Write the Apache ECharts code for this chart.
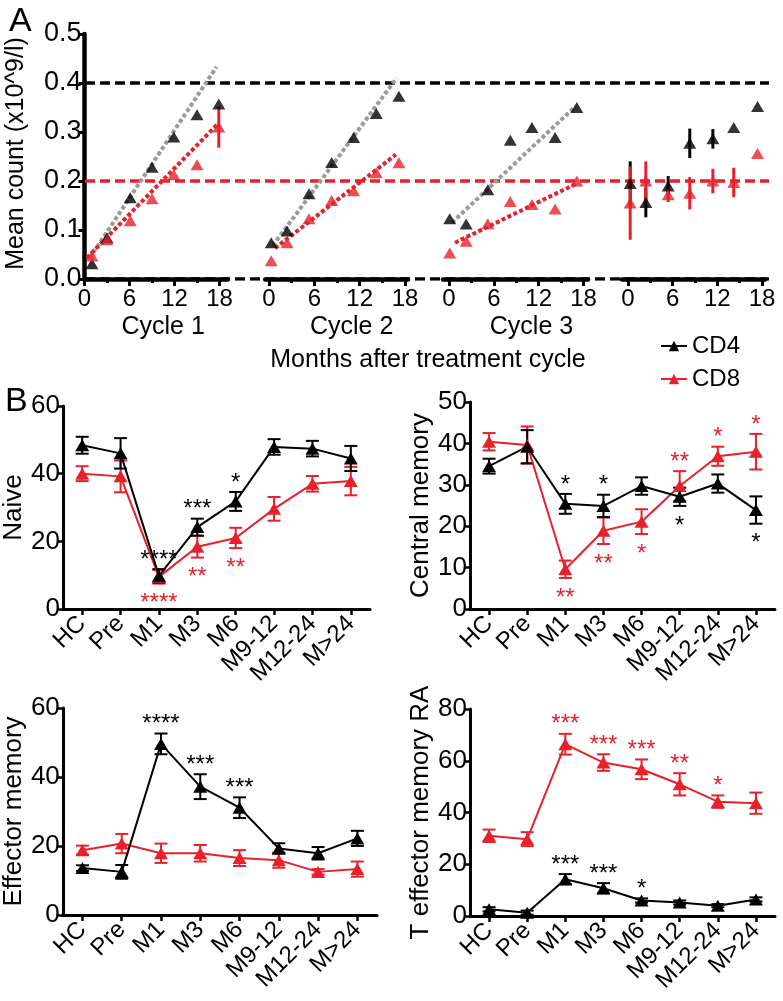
<!DOCTYPE html>
<html><head><meta charset="utf-8">
<script src="https://cdn.jsdelivr.net/npm/echarts@6/dist/echarts.min.js"></script>
<style>html,body{margin:0;padding:0;background:#fff}#c{width:783px;height:1001px}</style>
</head><body><div id="c"></div>
<script>
// ---------------- DATA: panel A ----------------
const cycleNames = ['Cycle 1', 'Cycle 2', 'Cycle 3', ''];
const monthTicks = [0, 6, 12, 18];
const monthMinorTicks = [3, 9, 15];
const refLevels = [0.4, 0.2, 0.0];

const c1Months = [1.0, 3.0, 6.1, 9.0, 11.9, 15.0, 17.9];
const c1CD4 = [0.031, 0.084, 0.166, 0.228, 0.290, 0.335, 0.357];
const c1CD4Err = [0, 0, 0, 0, 0, 0, 0];
const c1CD8 = [0.047, 0.080, 0.119, 0.164, 0.213, 0.233, 0.310];
const c1CD8Err = [0, 0, 0, 0, 0, 0, 0.042];
const c1CD4Fit = [[0.7, 0.043], [17.6, 0.433]];
const c1CD8Fit = [[0.3, 0.043], [17.8, 0.317]];

const c2Months = [0.3, 2.4, 5.3, 8.3, 11.2, 14.2, 17.2];
const c2CD4 = [0.074, 0.098, 0.174, 0.238, 0.289, 0.338, 0.373];
const c2CD4Err = [0, 0, 0, 0, 0, 0, 0];
const c2CD8 = [0.037, 0.074, 0.123, 0.160, 0.180, 0.217, 0.237];
const c2CD8Err = [0, 0, 0, 0, 0, 0, 0];
const c2CD4Fit = [[0.5, 0.068], [16.9, 0.410]];
const c2CD8Fit = [[0.8, 0.063], [16.8, 0.254]];

const c3Months = [0.1, 2.3, 5.2, 8.2, 11.1, 14.2, 17.1];
const c3CD4 = [0.123, 0.112, 0.182, 0.283, 0.309, 0.289, 0.350];
const c3CD4Err = [0, 0, 0, 0, 0, 0, 0];
const c3CD8 = [0.053, 0.077, 0.113, 0.158, 0.152, 0.143, 0.200];
const c3CD8Err = [0, 0, 0, 0, 0, 0, 0];
const c3CD4Fit = [[0.4, 0.115], [16.9, 0.352]];
const c3CD8Fit = [[0.8, 0.074], [17.1, 0.195]];

const c4Months = [0.3, 2.4, 5.4, 8.3, 11.4, 14.2, 17.4];
const c4CD4 = [0.195, 0.156, 0.190, 0.277, 0.286, 0.309, 0.352];
const c4CD4Err = [0.045, 0.030, 0.020, 0.030, 0.020, 0, 0];
const c4CD8 = [0.155, 0.200, 0.172, 0.175, 0.200, 0.197, 0.256];
const c4CD8Err = [0.075, 0.040, 0.015, 0.033, 0.025, 0.030, 0];
const c4CD4Fit = [];
const c4CD8Fit = [];

// ---------------- DATA: panel B ----------------
const categories = ['HC', 'Pre', 'M1', 'M3', 'M6', 'M9-12', 'M12-24', 'M>24'];

const naiveCD4 = [48.4, 46.0, 9.8, 24.2, 31.8, 47.9, 47.4, 44.5];
const naiveCD4Err = [2.5, 4.5, 2.0, 2.5, 2.8, 2.3, 2.3, 3.7];
const naiveCD8 = [40.0, 39.2, 9.5, 18.4, 21.0, 29.6, 37.0, 37.8];
const naiveCD8Err = [2.2, 4.7, 2.0, 3.2, 3.0, 3.5, 2.3, 4.2];
const naiveCD4Stars = ['', '', '****', '***', '*', '', '', ''];
const naiveCD4StarSide = ['', '', 'above', 'above', 'above', '', '', ''];
const naiveCD8Stars = ['', '', '****', '**', '**', '', '', ''];
const naiveCD8StarSide = ['', '', 'below', 'below', 'below', '', '', ''];

const centralCD4 = [34.5, 39.2, 25.4, 24.9, 29.7, 27.1, 30.3, 23.9];
const centralCD4Err = [1.8, 4.0, 2.4, 2.7, 2.1, 2.2, 2.2, 3.3];
const centralCD8 = [40.4, 39.6, 9.6, 18.9, 21.1, 29.7, 36.9, 38.0];
const centralCD8Err = [2.1, 4.5, 2.1, 3.2, 3.0, 3.6, 2.3, 4.3];
const centralCD4Stars = ['', '', '*', '*', '', '*', '', '*'];
const centralCD4StarSide = ['', '', 'above', 'above', '', 'below', '', 'below'];
const centralCD8Stars = ['', '', '**', '**', '*', '**', '*', '*'];
const centralCD8StarSide = ['', '', 'below', 'below', 'below', 'above', 'above', 'above'];

const effectorCD4 = [13.6, 12.5, 49.6, 37.2, 31.1, 19.3, 17.9, 22.2];
const effectorCD4Err = [0.8, 2.0, 3.0, 3.6, 3.0, 1.5, 1.8, 2.2];
const effectorCD8 = [18.8, 20.7, 17.9, 17.9, 16.5, 15.9, 12.5, 13.3];
const effectorCD8Err = [1.3, 2.8, 2.8, 2.4, 2.3, 2.2, 0.8, 2.2];
const effectorCD4Stars = ['', '', '****', '***', '***', '', '', ''];
const effectorCD4StarSide = ['', '', 'above', 'above', 'above', '', '', ''];
const effectorCD8Stars = ['', '', '', '', '', '', '', ''];
const effectorCD8StarSide = ['', '', '', '', '', '', '', ''];

const temraCD4 = [2.6, 1.3, 14.2, 10.7, 6.0, 5.2, 4.0, 6.4];
const temraCD4Err = [0.8, 0.8, 2.0, 2.0, 0.8, 0.8, 0.6, 0.8];
const temraCD8 = [31.0, 29.7, 66.4, 59.3, 56.7, 50.9, 44.2, 43.6];
const temraCD8Err = [2.4, 2.7, 4.0, 3.2, 3.8, 4.3, 2.4, 4.1];
const temraCD4Stars = ['', '', '***', '***', '*', '', '', ''];
const temraCD4StarSide = ['', '', 'above', 'above', 'above', '', '', ''];
const temraCD8Stars = ['', '', '***', '***', '***', '**', '*', ''];
const temraCD8StarSide = ['', '', 'above', 'above', 'above', 'above', 'above', ''];

// ---------------- STYLE / LAYOUT ----------------
const FONT = "'Liberation Sans', Arial, Helvetica, sans-serif";
const BLACK = '#000000';
const RED = '#e8202a';
const GRAY = '#9b9b9b';

const grids = [], xAxes = [], yAxes = [], series = [];

function errorBars(xi, yi, pts, color, capW, lw) {
  return {
    type: 'custom', xAxisIndex: xi, yAxisIndex: yi, silent: true, z: 3, clip: false,
    data: pts,
    renderItem: function (params, api) {
      const p = pts[params.dataIndex];
      const e = p[2];
      if (!e) return { type: 'group', children: [] };
      const t = api.coord([p[0], p[1] + e]);
      const b = api.coord([p[0], p[1] - e]);
      const st = { stroke: color, lineWidth: lw };
      const ch = [{ type: 'line', shape: { x1: t[0], y1: t[1], x2: b[0], y2: b[1] }, style: st }];
      if (capW > 0) {
        ch.push({ type: 'line', shape: { x1: t[0] - capW / 2, y1: t[1], x2: t[0] + capW / 2, y2: t[1] }, style: st });
        ch.push({ type: 'line', shape: { x1: b[0] - capW / 2, y1: b[1], x2: b[0] + capW / 2, y2: b[1] }, style: st });
      }
      return { type: 'group', children: ch };
    }
  };
}

function starSeries(xi, yi, vals, errs, stars, sides, color) {
  const items = [];
  stars.forEach(function (s, i) {
    if (!s) return;
    const above = sides[i] === 'above';
    items.push({ x: i, y: above ? vals[i] + errs[i] : vals[i] - errs[i], text: s, above: above });
  });
  return {
    type: 'custom', xAxisIndex: xi, yAxisIndex: yi, silent: true, z: 5, clip: false,
    data: items.map(function (it) { return [it.x, it.y]; }),
    renderItem: function (params, api) {
      const it = items[params.dataIndex];
      const p = api.coord([it.x, it.y]);
      return {
        type: 'text', x: p[0], y: p[1] + (it.above ? -9 : 20),
        style: { text: it.text, fill: color, font: '24px ' + FONT, align: 'center', verticalAlign: 'middle' }
      };
    }
  };
}

// ---------------- PANEL B ----------------
const bPanels = [
  { name: 'Naive', yMax: 60, yInt: 20, nameGap: 35,
    cd4: naiveCD4, cd4e: naiveCD4Err, cd8: naiveCD8, cd8e: naiveCD8Err,
    s4: naiveCD4Stars, s4s: naiveCD4StarSide, s8: naiveCD8Stars, s8s: naiveCD8StarSide,
    grid: { left: 63, top: 406, width: 307, height: 203 } },
  { name: 'Central memory', yMax: 50, yInt: 10, nameGap: 33,
    cd4: centralCD4, cd4e: centralCD4Err, cd8: centralCD8, cd8e: centralCD8Err,
    s4: centralCD4Stars, s4s: centralCD4StarSide, s8: centralCD8Stars, s8s: centralCD8StarSide,
    grid: { left: 470, top: 402, width: 305, height: 207 } },
  { name: 'Effector memory', yMax: 60, yInt: 20, nameGap: 34,
    cd4: effectorCD4, cd4e: effectorCD4Err, cd8: effectorCD8, cd8e: effectorCD8Err,
    s4: effectorCD4Stars, s4s: effectorCD4StarSide, s8: effectorCD8Stars, s8s: effectorCD8StarSide,
    grid: { left: 62, top: 708, width: 315, height: 207 } },
  { name: 'T effector memory RA', yMax: 80, yInt: 20, nameGap: 34,
    cd4: temraCD4, cd4e: temraCD4Err, cd8: temraCD8, cd8e: temraCD8Err,
    s4: temraCD4Stars, s4s: temraCD4StarSide, s8: temraCD8Stars, s8s: temraCD8StarSide,
    grid: { left: 470, top: 709, width: 305, height: 207 } }
];

bPanels.forEach(function (P) {
  grids.push(P.grid);
  const gi = grids.length - 1;
  xAxes.push({
    type: 'category', gridIndex: gi, data: categories, boundaryGap: true,
    axisLine: { show: true, lineStyle: { color: BLACK, width: 3 } },
    axisTick: { show: true, alignWithLabel: true, length: 6, lineStyle: { color: BLACK, width: 2.5 } },
    axisLabel: { rotate: 45, interval: 0, fontSize: 24, fontFamily: FONT, color: BLACK, margin: 11 },
    splitLine: { show: false }
  });
  const xi = xAxes.length - 1;
  yAxes.push({
    type: 'value', gridIndex: gi, min: 0, max: P.yMax, interval: P.yInt,
    name: P.name, nameLocation: 'middle', nameGap: P.nameGap,
    nameTextStyle: { fontSize: 26, fontFamily: FONT, color: BLACK },
    axisLine: { show: true, lineStyle: { color: BLACK, width: 3 } },
    axisTick: { show: true, length: 6, lineStyle: { color: BLACK, width: 2.5 } },
    axisLabel: { fontSize: 26, fontFamily: FONT, color: BLACK, margin: 3 },
    splitLine: { show: false }
  });
  const yi = yAxes.length - 1;
  series.push({
    name: 'CD8', type: 'line', xAxisIndex: xi, yAxisIndex: yi, data: P.cd8,
    symbol: 'triangle', symbolSize: [14, 12], z: 4,
    itemStyle: { color: RED }, lineStyle: { color: RED, width: 2 }
  });
  series.push(errorBars(xi, yi, P.cd8.map(function (v, i) { return [i, v, P.cd8e[i]]; }), RED, 13, 2));
  series.push({
    name: 'CD4', type: 'line', xAxisIndex: xi, yAxisIndex: yi, data: P.cd4,
    symbol: 'triangle', symbolSize: [14, 12], z: 4,
    itemStyle: { color: BLACK }, lineStyle: { color: BLACK, width: 2 }
  });
  series.push(errorBars(xi, yi, P.cd4.map(function (v, i) { return [i, v, P.cd4e[i]]; }), BLACK, 13, 2));
  series.push(starSeries(xi, yi, P.cd4, P.cd4e, P.s4, P.s4s, BLACK));
  series.push(starSeries(xi, yi, P.cd8, P.cd8e, P.s8, P.s8s, RED));
});

// ---------------- PANEL A ----------------
const aLayout = [
  { left: 84.5, width: 143.3, min: 0, max: 19.1, namePad: 14 },
  { left: 265.2, width: 142.8, min: -0.5, max: 18.4, namePad: 30 },
  { left: 443, width: 145, min: -0.8, max: 18.6, namePad: 32 },
  { left: 622, width: 143, min: -0.8, max: 18.4, namePad: 0 }
];
const aCycles = [
  { m: c1Months, cd4: c1CD4, cd4e: c1CD4Err, cd8: c1CD8, cd8e: c1CD8Err, f4: c1CD4Fit, f8: c1CD8Fit },
  { m: c2Months, cd4: c2CD4, cd4e: c2CD4Err, cd8: c2CD8, cd8e: c2CD8Err, f4: c2CD4Fit, f8: c2CD8Fit },
  { m: c3Months, cd4: c3CD4, cd4e: c3CD4Err, cd8: c3CD8, cd8e: c3CD8Err, f4: c3CD4Fit, f8: c3CD8Fit },
  { m: c4Months, cd4: c4CD4, cd4e: c4CD4Err, cd8: c4CD8, cd8e: c4CD8Err, f4: c4CD4Fit, f8: c4CD8Fit }
];
const A_TOP = 34, A_H = 245;

// reference dashed lines overlay
grids.push({ left: 85, top: A_TOP, width: 684, height: A_H });
(function () {
  const gi = grids.length - 1;
  xAxes.push({ type: 'value', gridIndex: gi, min: 0, max: 1, show: false });
  yAxes.push({ type: 'value', gridIndex: gi, min: 0, max: 0.5, show: false });
  const xi = xAxes.length - 1, yi = yAxes.length - 1;
  const refColors = [BLACK, RED, BLACK];
  refLevels.forEach(function (lv, k) {
    series.push({
      type: 'line', xAxisIndex: xi, yAxisIndex: yi, silent: true, showSymbol: false, z: 1,
      data: [[0, lv], [1, lv]],
      lineStyle: { color: refColors[k], width: 3.5, type: [10, 5] }
    });
  });
})();

aLayout.forEach(function (L, i) {
  const C = aCycles[i];
  grids.push({ left: L.left, top: A_TOP, width: L.width, height: A_H });
  const gi = grids.length - 1;
  xAxes.push({
    type: 'value', gridIndex: gi, min: L.min, max: L.max,
    name: cycleNames[i], nameLocation: 'middle', nameGap: 36,
    nameTextStyle: { fontSize: 25, fontFamily: FONT, color: BLACK, padding: [0, 0, 0, L.namePad] },
    axisLine: { show: true, onZero: false, lineStyle: { color: BLACK, width: 4.5 } },
    axisTick: { show: true, customValues: monthTicks, length: 7, lineStyle: { color: BLACK, width: 3 } },
    axisLabel: { customValues: monthTicks, fontSize: 24, fontFamily: FONT, color: BLACK, margin: 8 },
    splitLine: { show: false }
  });
  const xi = xAxes.length - 1;
  xAxes.push({
    type: 'value', gridIndex: gi, min: L.min, max: L.max, position: 'bottom',
    axisLine: { show: false, onZero: false },
    axisTick: { show: true, customValues: monthMinorTicks, length: 4, lineStyle: { color: BLACK, width: 3 } },
    axisLabel: { show: false }, splitLine: { show: false }
  });
  yAxes.push({
    type: 'value', gridIndex: gi, min: 0, max: 0.5, interval: 0.1, show: i === 0,
    name: i === 0 ? 'Mean count (x10^9/l)' : '', nameLocation: 'middle', nameGap: 56,
    nameTextStyle: { fontSize: 25, fontFamily: FONT, color: BLACK, padding: [0, 0, 0, 6] },
    axisLine: { show: true, lineStyle: { color: BLACK, width: 4.5 } },
    axisTick: { show: true, length: 6, lineStyle: { color: BLACK, width: 3 } },
    axisLabel: { fontSize: 27, fontFamily: FONT, color: BLACK, margin: 3, formatter: function (v) { return v.toFixed(1); } },
    splitLine: { show: false }
  });
  const yi = yAxes.length - 1;
  if (C.f4.length) series.push({
    type: 'line', xAxisIndex: xi, yAxisIndex: yi, showSymbol: false, silent: true, z: 2,
    data: C.f4, lineStyle: { color: GRAY, width: 4, type: [4, 2.5], cap: 'butt' }
  });
  if (C.f8.length) series.push({
    type: 'line', xAxisIndex: xi, yAxisIndex: yi, showSymbol: false, silent: true, z: 2,
    data: C.f8, lineStyle: { color: RED, width: 4, type: [4, 2.5], cap: 'butt' }
  });
  series.push(errorBars(xi, yi, C.m.map(function (m, k) { return [m, C.cd4[k], C.cd4e[k]]; }), BLACK, 0, 3));
  series.push(errorBars(xi, yi, C.m.map(function (m, k) { return [m, C.cd8[k], C.cd8e[k]]; }), RED, 0, 3));
  series.push({
    name: 'CD4', type: 'scatter', xAxisIndex: xi, yAxisIndex: yi, z: 4,
    data: C.m.map(function (m, k) { return [m, C.cd4[k]]; }),
    symbol: 'triangle', symbolSize: [13, 11], itemStyle: { color: BLACK }
  });
  series.push({
    name: 'CD8', type: 'scatter', xAxisIndex: xi, yAxisIndex: yi, z: 4,
    data: C.m.map(function (m, k) { return [m, C.cd8[k]]; }),
    symbol: 'triangle', symbolSize: [13, 11], itemStyle: { color: RED }
  });
});

const option = {
  backgroundColor: '#ffffff',
  animation: false,
  textStyle: { fontFamily: FONT },
  title: [
    { text: 'A', left: 4, top: 0, textStyle: { fontSize: 34, fontWeight: 'normal', fontFamily: FONT, color: BLACK } },
    { text: 'B', left: 0, top: 380, textStyle: { fontSize: 34, fontWeight: 'normal', fontFamily: FONT, color: BLACK } }
  ],
  graphic: [
    { type: 'text', x: 428, y: 360, style: { text: 'Months after treatment cycle', font: '25px ' + FONT, fill: BLACK, align: 'center', verticalAlign: 'middle' } }
  ],
  legend: {
    data: ['CD4', 'CD8'], orient: 'vertical', left: 655, top: 329, itemWidth: 26, itemHeight: 13, itemGap: 9,
    textStyle: { fontSize: 24, fontFamily: FONT, color: BLACK }, selectedMode: false
  },
  grid: grids, xAxis: xAxes, yAxis: yAxes, series: series
};

const chart = echarts.init(document.getElementById('c'), null, { renderer: 'canvas' });
chart.setOption(option);
</script></body></html>
